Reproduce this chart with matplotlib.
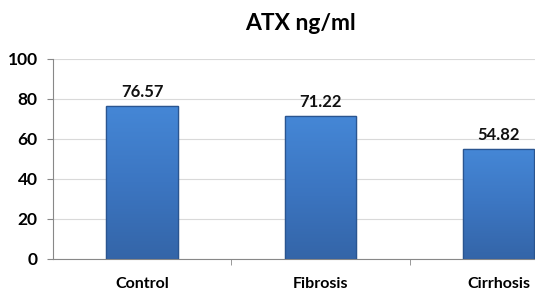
import numpy as np
import matplotlib as mpl
mpl.use('Agg')
import matplotlib.pyplot as plt
from matplotlib.colors import LinearSegmentedColormap

categories = ["Control", "Fibrosis", "Cirrhosis"]
values = [76.57, 71.22, 54.82]
labels = ["76.57", "71.22", "54.82"]
yticks = [0, 20, 40, 60, 80, 100]

plt.rcParams['font.family'] = ['Lato', 'DejaVu Sans']

fig = plt.figure(figsize=(5.35, 2.9), dpi=100)
ax = fig.add_axes([0.099, 0.107, 1.0, 0.69])

x = np.arange(len(categories))
width = 0.4
bars = ax.bar(x, values, width=width, color='#3d78c4', edgecolor='#2a5590',
              linewidth=0.9, zorder=2)

# vertical shading on each bar, lighter at the top
cmap = LinearSegmentedColormap.from_list('bar', ['#3465a8', '#3c76c2', '#4587d6'])
grad = np.linspace(0, 1, 256).reshape(-1, 1)
for b in bars:
    x0, y0 = b.get_x(), b.get_y()
    im = ax.imshow(grad, cmap=cmap, aspect='auto', zorder=2.5, origin='lower',
                   extent=[x0, x0 + b.get_width(), y0, y0 + b.get_height()])
    im.set_clip_path(b)
    ax.bar(b.get_x() + b.get_width() / 2, b.get_height(), width=b.get_width(),
           fill=False, edgecolor='#2a5590', linewidth=0.9, zorder=3)

for xi, v, lab in zip(x, values, labels):
    ax.text(xi, v + 3, lab, ha='center', va='bottom', fontsize=12,
            fontweight='bold', color='#111111')

ax.set_xlim(-0.5, 2.5)
ax.set_ylim(0, 100)
ax.set_yticks(yticks)
ax.set_yticklabels([str(t) for t in yticks], fontsize=12.5, fontweight='bold')
ax.set_xticks(x)
ax.set_xticklabels(categories, fontsize=11.5, fontweight='bold')
ax.set_xticks([0.5, 1.5], minor=True)
ax.tick_params(axis='x', which='major', length=0, pad=13)
ax.tick_params(axis='x', which='minor', length=4, color='#888888')
ax.tick_params(axis='y', length=4, color='#888888', pad=7)
ax.grid(axis='y', color='#d9d9d9', linewidth=0.8, zorder=0)
for s in ['top', 'right']:
    ax.spines[s].set_visible(False)
for s in ['left', 'bottom']:
    ax.spines[s].set_color('#888888')
    ax.spines[s].set_linewidth(0.8)

fig.text(0.561, 0.955, "ATX ng/ml", ha='center', va='top', fontsize=16.5,
         fontweight='bold')

fig.savefig('out.png', dpi=100)
